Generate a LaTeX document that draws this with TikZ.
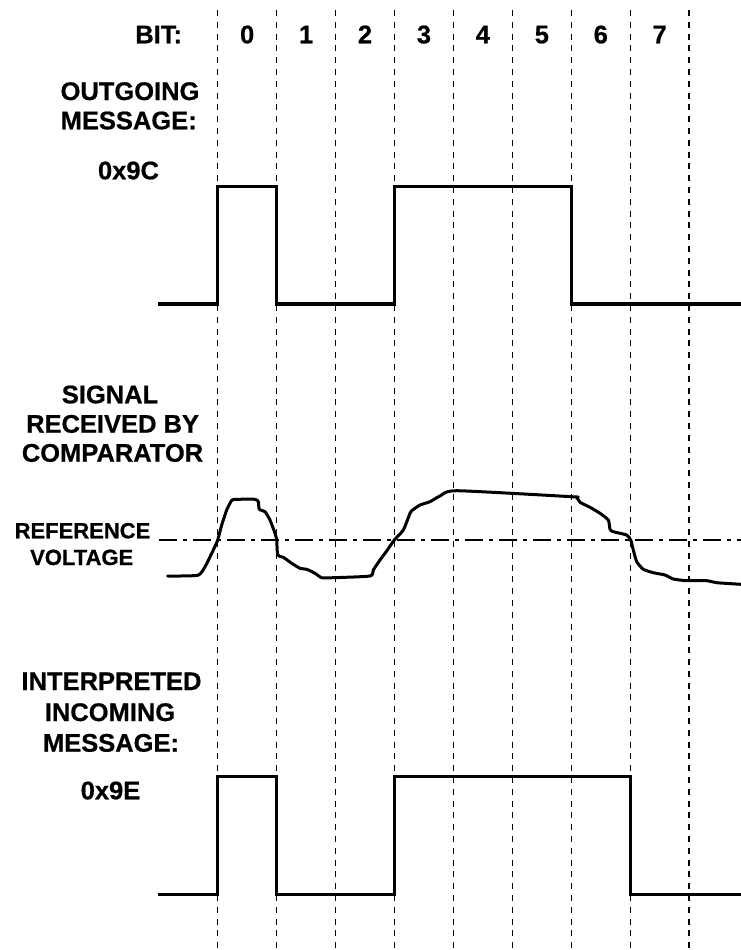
\documentclass[tikz,border=0pt]{standalone}
\usepackage{fontspec}
\setmainfont[BoldFeatures={FakeBold=0.6}]{Liberation Sans}
\begin{document}
\begin{tikzpicture}[x=1pt,y=-1pt,
  lab/.style={font=\bfseries\fontsize{25.5}{30}\selectfont, inner sep=0pt, anchor=base},
  smalllab/.style={font=\bfseries\fontsize{22}{26}\selectfont, inner sep=0pt, anchor=base},
  gridline/.style={line width=1.3pt, dash pattern=on 6pt off 5.8pt},
  wave/.style={line width=3.3pt, line join=miter},
  sig/.style={line width=3pt, line join=round, line cap=round},
  refline/.style={line width=2pt, dash pattern=on 18pt off 6pt on 4pt off 6pt}]
\useasboundingbox (0,0) rectangle (741,950);

% bit boundaries
\foreach \i in {0,...,8} {
  \coordinate (gt\i) at ({217.7+58.93*\i},10);
  \coordinate (gb\i) at ({217.7+58.93*\i},948);
  \draw[gridline] (gt\i) -- (gb\i);
}

% header
\node[lab] (bit) at (158.7,43.3) {BIT:};
\foreach \i in {0,...,7} {
  \node[lab] (d\i) at ({217.7+58.93*\i+29.47},43.3) {\i};
}

% outgoing message
\node[lab] (out1) at (130,100) {OUTGOING};
\node[lab] (out2) at (128.7,129.3) {MESSAGE:};
\node[lab] (outv) at (128.5,179.3) {0x9C};
\coordinate (os) at (158,304);
\coordinate (oe) at (741,304);
\draw[wave] (os) -| (217.7,186.7) -| (276.6,304) -| (394.5,186.7) -| (571.3,304) -- (oe);

% signal received
\node[lab] (sg1) at (110,403.3) {SIGNAL};
\node[lab] (sg2) at (112.6,432.7) {RECEIVED BY};
\node[lab] (sg3) at (112.5,461.7) {COMPARATOR};
\node[smalllab] (rf1) at (82.5,538.3) {REFERENCE};
\node[smalllab] (rf2) at (81.7,565) {VOLTAGE};
\coordinate (rs) at (159,540);
\coordinate (re) at (741,540);
\draw[refline] (rs) -- (re);

\draw[sig] plot[smooth, tension=0.35] coordinates {
  (167.7,576) (197.7,575.3) (205,566.7) (213.3,550) (217.7,540) (221.7,525)
  (226.7,510) (232,500) (238,499.3) (255,499.3) (258.3,501.7) (259.3,509.3)
  (265,511.7) (270,520) (275,533.3) (276.7,540) (277.7,555) (283.3,557.3)
  (291.7,563.3) (300,568.3) (306.7,569.3) (315,573.3) (321.7,577.7) (333.3,577.7)
  (370,576) (373.3,570) (380,560) (386.7,551) (394.3,540) (403.3,530)
  (410,513.3) (411.7,510.7) (420,505) (430,501.7) (440,496) (456.7,490.7)
  (571.7,496.7) (576.7,497.3) (580,502.3) (590,507.3) (600,513.3) (608.3,520)
  (610,529.3) (613.3,531.7) (626.7,535) (630.7,540) (633.3,550) (636.7,561.7)
  (643.3,569.3) (653.3,572.7) (665,575) (673.3,579) (686.7,580.7) (706.7,580.7)
  (716.7,582.7) (741,584.3)};

% interpreted incoming message
\node[lab] (in1) at (111.5,690) {INTERPRETED};
\node[lab] (in2) at (110,721) {INCOMING};
\node[lab] (in3) at (111,751.7) {MESSAGE:};
\node[lab] (inv) at (110.5,799.3) {0x9E};
\coordinate (is) at (158,894.3);
\coordinate (ie) at (741,894.3);
\draw[wave] (is) -| (217.7,776.5) -| (276.6,894.3) -| (394.5,776.5) -| (630.2,894.3) -- (ie);
\end{tikzpicture}
\end{document}
